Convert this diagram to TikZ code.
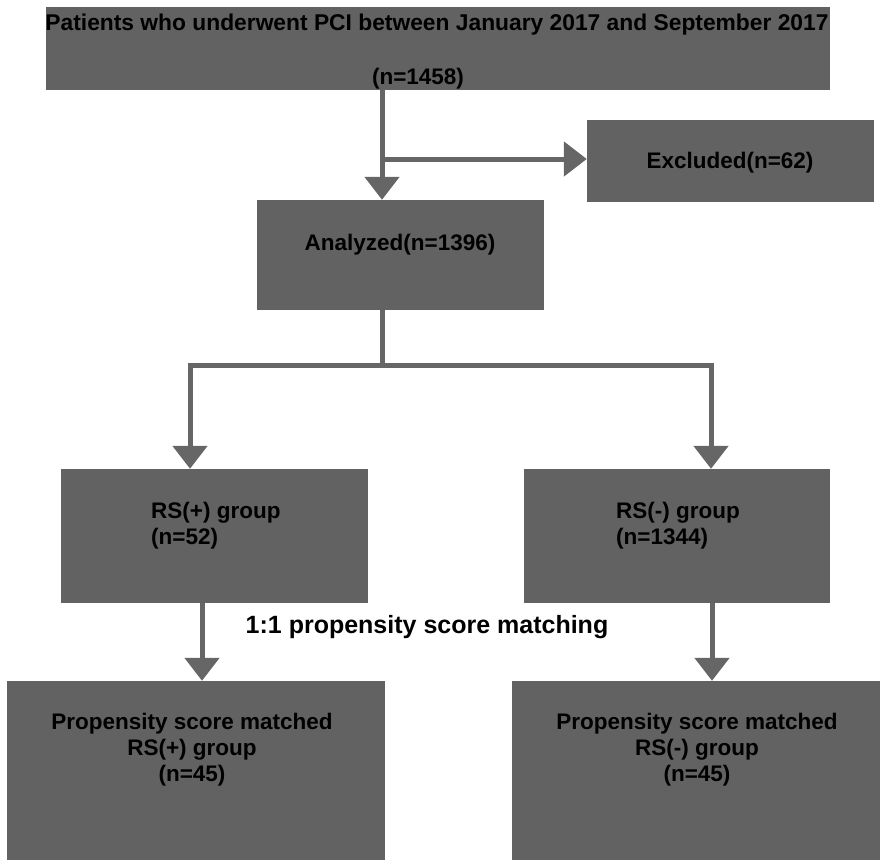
\documentclass[tikz,border=0pt]{standalone}
\usepackage{fontspec}
\setmainfont{Liberation Sans}
\usetikzlibrary{arrows.meta}
\definecolor{boxgray}{RGB}{98,98,98}
\definecolor{linegray}{RGB}{102,102,102}
\begin{document}
\begin{tikzpicture}[x=1pt,y=-1pt,
  box/.style={draw=none,fill=boxgray,inner sep=0pt},
  txt/.style={inner sep=0pt,font=\fontsize{22.5}{26}\selectfont\bfseries,text=black},
  conn/.style={draw=linegray,line width=5pt},
  arr/.style={conn,-{Triangle[width=34pt,length=23pt]}}]
\useasboundingbox (0,0) rectangle (880,860);
% boxes
\node[box,minimum width=784pt,minimum height=83pt] (top) at (438,48.5) {};
\node[box,minimum width=287pt,minimum height=82pt] (excl) at (730.5,161) {};
\node[box,minimum width=287pt,minimum height=110pt] (ana) at (400.5,255) {};
\node[box,minimum width=307pt,minimum height=134pt] (rsp) at (214.5,536) {};
\node[box,minimum width=306pt,minimum height=134pt] (rsm) at (677,536) {};
\node[box,minimum width=378pt,minimum height=179pt] (mp) at (196,770.5) {};
\node[box,minimum width=368pt,minimum height=179pt] (mm) at (696,770.5) {};
% texts
\node[txt,font=\fontsize{22.8}{26}\selectfont\bfseries] (t1) at (437,25) {Patients who underwent PCI between January 2017 and September 2017};
\node[txt] (t2) at (418,79) {(n=1458)};
\node[txt] (t3) at (730,163) {Excluded(n=62)};
\node[txt] (t4) at (400,245) {Analyzed(n=1396)};
\node[txt,align=left,anchor=west] (t5) at (151,526) {RS(+) group\\(n=52)};
\node[txt,align=left,anchor=west] (t6) at (616,526) {RS(-) group\\(n=1344)};
\node[txt,font=\fontsize{25}{28}\selectfont\bfseries] (t7) at (427,627) {1:1 propensity score matching};
\node[txt,align=center] (t8) at (192,750) {Propensity score matched\\RS(+) group\\(n=45)};
\node[txt,align=center] (t9) at (697,750) {Propensity score matched\\RS(-) group\\(n=45)};
% connector coordinates
\coordinate (c1) at (382,0);
\coordinate (b1) at (382,159);
\coordinate (j) at (382,365);
\coordinate (jl) at (190,365);
\coordinate (jr) at (711,365);
\coordinate (c2) at (202,0);
\coordinate (c3) at (712,0);
% connectors
\draw[arr] (top.south -| c1) -- (ana.north -| c1);
\draw[arr] (b1) -- (excl.west |- b1);
\draw[conn] (ana.south -| c1) -- (j);
\draw[conn,line cap=rect] (jl) -- (jr);
\draw[arr] (jl) -- (rsp.north -| jl);
\draw[arr] (jr) -- (rsm.north -| jr);
\draw[arr] (rsp.south -| c2) -- (mp.north -| c2);
\draw[arr] (rsm.south -| c3) -- (mm.north -| c3);
\end{tikzpicture}
\end{document}
